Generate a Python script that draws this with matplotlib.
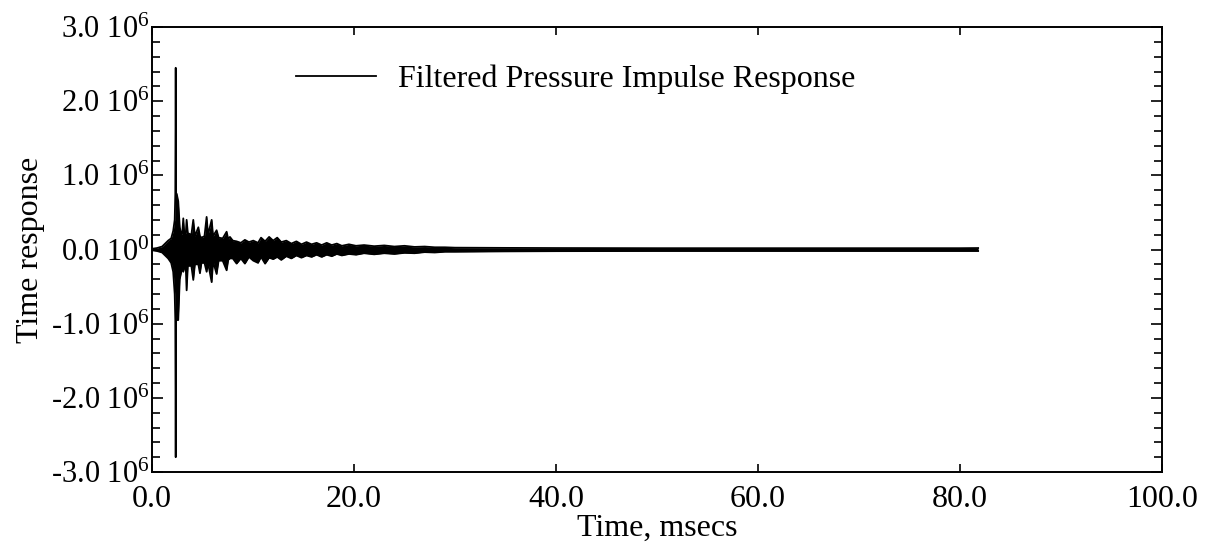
import matplotlib
matplotlib.use("Agg")
import matplotlib.pyplot as plt
from matplotlib.ticker import FixedLocator, MultipleLocator

plt.rcParams['font.family'] = ['Liberation Serif', 'DejaVu Serif']
plt.rcParams['mathtext.fontset'] = 'custom'
plt.rcParams['mathtext.rm'] = 'Liberation Serif'

# envelope of the filtered pressure impulse response
# time in msecs, upper / lower envelope in units of 1e6
time_ms = [0.0, 0.5, 1.0, 1.3, 1.6, 1.9, 2.1, 2.25, 2.31, 2.35, 2.39, 2.45, 2.6, 2.75, 2.9,
           3.0, 3.1, 3.2, 3.35, 3.43, 3.55, 3.9, 4.09, 4.25, 4.59, 4.75, 4.9, 5.2, 5.41,
           5.55, 5.91, 6.05, 6.4, 6.6, 7.0, 7.39, 7.55, 7.72, 8.0, 8.38, 8.8, 9.2, 9.6,
           10.03, 10.5, 10.8, 11.2, 11.6, 12.0, 12.4, 12.8, 13.3, 13.8, 14.3, 14.8,
           15.3, 15.8, 16.3, 16.8, 17.3, 17.8, 18.3, 18.8, 19.5, 20.2, 21.0, 22.0,
           23.0, 24.0, 25.0, 26.0, 27.0, 28.0, 29.0, 30.0, 35.0, 40.0, 50.0, 60.0,
           70.0, 80.0, 81.8]
upper = [0.01, 0.02, 0.04, 0.08, 0.12, 0.15, 0.25, 0.40, 0.75, 2.45, 0.76, 0.75, 0.65, 0.30, 0.20,
         0.22, 0.42, 0.22, 0.22, 0.40, 0.22, 0.20, 0.40, 0.18, 0.30, 0.18, 0.16, 0.18, 0.44,
         0.20, 0.40, 0.18, 0.26, 0.16, 0.15, 0.24, 0.14, 0.17, 0.12, 0.11, 0.09, 0.13, 0.10,
         0.12, 0.09, 0.16, 0.11, 0.17, 0.12, 0.16, 0.10, 0.12, 0.08, 0.11, 0.07,
         0.10, 0.07, 0.09, 0.06, 0.09, 0.06, 0.08, 0.05, 0.07, 0.05, 0.06, 0.045,
         0.055, 0.04, 0.05, 0.035, 0.04, 0.03, 0.03, 0.025, 0.022, 0.02, 0.018, 0.018,
         0.018, 0.018, 0.02]
lower = [-0.01, -0.02, -0.04, -0.08, -0.12, -0.18, -0.30, -0.60, -0.95, -2.80, -0.95, -0.95, -0.95, -0.40, -0.30,
         -0.25, -0.30, -0.25, -0.25, -0.55, -0.22, -0.22, -0.41, -0.20, -0.20, -0.32, -0.18, -0.18, -0.30,
         -0.18, -0.44, -0.16, -0.33, -0.15, -0.15, -0.28, -0.14, -0.12, -0.12, -0.19, -0.12, -0.19, -0.10,
         -0.15, -0.18, -0.10, -0.19, -0.11, -0.13, -0.10, -0.14, -0.09, -0.12, -0.08, -0.11,
         -0.08, -0.10, -0.07, -0.10, -0.07, -0.09, -0.06, -0.08, -0.06, -0.07, -0.05, -0.065,
         -0.05, -0.06, -0.045, -0.05, -0.035, -0.04, -0.03, -0.03, -0.025, -0.022, -0.02, -0.02,
         -0.02, -0.02, -0.02]

y_ticks = [-3, -2, -1, 0, 1, 2, 3]
y_tick_labels = [r'-3.0 $\mathregular{10^{6}}$', r'-2.0 $\mathregular{10^{6}}$', r'-1.0 $\mathregular{10^{6}}$',
                 r'0.0 $\mathregular{10^{0}}$', r'1.0 $\mathregular{10^{6}}$', r'2.0 $\mathregular{10^{6}}$',
                 r'3.0 $\mathregular{10^{6}}$']
x_ticks = [0, 20, 40, 60, 80, 100]
x_tick_labels = ['0.0', '20.0', '40.0', '60.0', '80.0', '100.0']

fig = plt.figure(figsize=(12.1, 5.46), dpi=100)
ax = fig.add_axes([0.1256, 0.1355, 0.8347, 0.815])

ax.fill_between(time_ms, lower, upper, color='black', linewidth=0)
ax.plot(time_ms, upper, color='black', lw=1.3, label='Filtered Pressure Impulse Response')
ax.plot(time_ms, lower, color='black', lw=1.3)

ax.set_xlim(0, 100)
ax.set_ylim(-3, 3)
ax.xaxis.set_major_locator(FixedLocator(x_ticks))
ax.set_xticklabels(x_tick_labels)
ax.yaxis.set_major_locator(FixedLocator(y_ticks))
ax.yaxis.set_minor_locator(MultipleLocator(0.2))
ax.set_yticklabels(y_tick_labels)

ax.tick_params(axis='both', which='both', direction='in', top=True, right=True, width=1.2)
ax.tick_params(axis='y', which='major', length=8, pad=2, labelsize=22)
ax.tick_params(axis='y', which='minor', length=6)
ax.tick_params(axis='x', which='major', length=6, pad=9, labelsize=23)
for s in ax.spines.values():
    s.set_linewidth(1.4)

ax.set_xlabel('Time, msecs', fontsize=23, labelpad=0)
ax.set_ylabel('Time response', fontsize=23, labelpad=4)

ax.legend(loc='upper left', bbox_to_anchor=(0.13, 0.945), frameon=False, fontsize=23,
          handlelength=2.5, handletextpad=0.7, borderaxespad=0)

fig.savefig('out.png', dpi=100)
